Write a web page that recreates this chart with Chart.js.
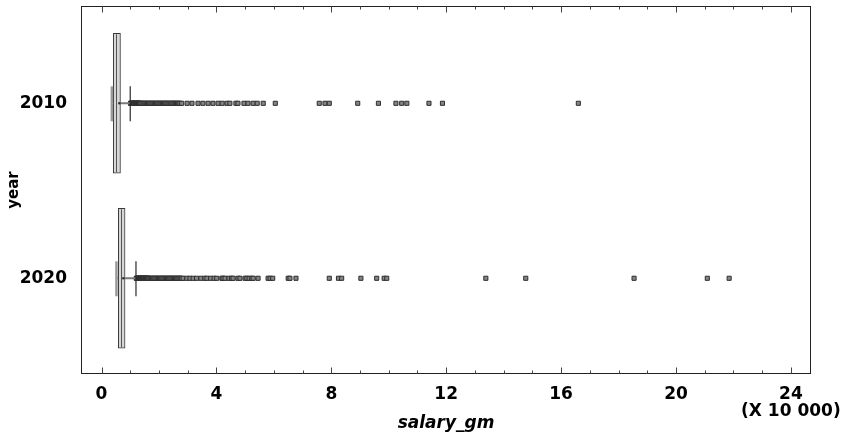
<!DOCTYPE html>
<html>
<head>
<meta charset="utf-8">
<script src="https://cdn.jsdelivr.net/npm/chart.js@4/dist/chart.umd.min.js"></script>
<style>
  html, body { margin: 0; padding: 0; background: #ffffff; }
  #wrap { width: 854px; height: 434px; }
</style>
</head>
<body>
<div id="wrap"><canvas id="c" width="854" height="434"></canvas></div>
<script>
// ---- data (salary_gm in units of 10 000) ----
const years = ['2010', '2020'];
const yearPositions = [0, 1];
const lowWhisker = [0.36, 0.52];
const q1 = [0.41, 0.585];
const median = [0.50, 0.68];
const q3 = [0.66, 0.82];
const highWhisker = [1.00, 1.20];
const means = [0.62, 0.76];

const outliers2010 = [
  1.01, 1.02, 1.04, 1.06, 1.07, 1.09, 1.11, 1.12, 1.14, 1.16, 1.17, 1.19, 1.21, 1.22, 1.24, 1.26, 1.27, 1.29, 1.31,
  1.32, 1.34,
  1.37, 1.41, 1.45, 1.49, 1.52, 1.56, 1.60, 1.64, 1.68, 1.72, 1.76, 1.80, 1.84, 1.88, 1.92, 1.96, 2.00, 2.04, 2.08,
  2.12, 2.16, 2.20, 2.24, 2.28, 2.32, 2.36, 2.41, 2.45, 2.49, 2.53, 2.57, 2.61, 2.65, 2.69, 2.73,
  2.79, 2.98, 3.15, 3.36, 3.53, 3.71, 3.88, 4.06, 4.20, 4.37, 4.47, 4.68, 4.75, 4.96, 5.10, 5.28, 5.42, 5.63, 6.05,
  7.58, 7.78, 7.93, 8.92, 9.64, 10.25, 10.45, 10.63, 11.40, 11.87, 16.60
];
const outliers2020 = [
  1.21, 1.23, 1.24, 1.26, 1.28, 1.29, 1.31, 1.33, 1.34, 1.36, 1.38, 1.39, 1.41, 1.43, 1.44, 1.46, 1.48, 1.49, 1.51,
  1.53, 1.54, 1.56, 1.58, 1.59, 1.61, 1.63,
  1.66, 1.70, 1.74, 1.78, 1.82, 1.86, 1.90, 1.94, 1.98, 2.02, 2.06, 2.10, 2.14, 2.18, 2.22, 2.26, 2.30, 2.34, 2.38,
  2.42, 2.46, 2.50, 2.54, 2.58, 2.62, 2.66, 2.70, 2.74, 2.78,
  2.84, 2.97, 3.08, 3.19, 3.31, 3.46, 3.60, 3.67, 3.80, 3.92, 4.01, 4.19, 4.23, 4.30, 4.44, 4.53, 4.58, 4.75, 4.82,
  5.00, 5.06, 5.14, 5.23, 5.28, 5.45, 5.80, 5.87, 5.96,
  6.50, 6.56, 6.77, 7.93, 8.25, 8.36, 9.03, 9.58, 9.84, 9.93, 13.38, 14.77, 18.54, 21.09, 21.85
];
const outliersByYear = [outliers2010, outliers2020];

const xTickValues = [0, 4, 8, 12, 16, 20, 24];
const xUnitLabel = '(X 10 000)';
const xTitle = 'salary_gm';
const yTitle = 'year';

// ---- build datasets ----
const boxData = yearPositions.map((p, i) => ({ x: [q1[i], q3[i]], y: p }));
const outlierData = [];
outliersByYear.forEach((arr, i) => arr.forEach(v => outlierData.push({ x: v, y: yearPositions[i] })));

const FONT = "'DejaVu Sans', 'Liberation Sans', Arial, sans-serif";

const boxPlugin = {
  id: 'boxDecor',
  afterDatasetsDraw(chart) {
    const { ctx, chartArea } = chart;
    const xs = chart.scales.x, ys = chart.scales.y;
    ctx.save();
    yearPositions.forEach((p, i) => {
      const yc = ys.getPixelForValue(p);
      // whisker lines
      ctx.strokeStyle = '#7a7a7a';
      ctx.lineWidth = 2;
      ctx.beginPath();
      ctx.moveTo(xs.getPixelForValue(lowWhisker[i]), yc);
      ctx.lineTo(xs.getPixelForValue(q1[i]), yc);
      ctx.moveTo(xs.getPixelForValue(q3[i]), yc);
      ctx.lineTo(xs.getPixelForValue(highWhisker[i]), yc);
      ctx.stroke();
      // low cap
      ctx.strokeStyle = '#9a9a9a';
      ctx.lineWidth = 2.5;
      ctx.beginPath();
      const lx = xs.getPixelForValue(lowWhisker[i]);
      ctx.moveTo(lx, yc - 17); ctx.lineTo(lx, yc + 18);
      ctx.stroke();
      // high cap
      ctx.strokeStyle = '#2a2a2a';
      ctx.lineWidth = 1.2;
      ctx.beginPath();
      const hx = xs.getPixelForValue(highWhisker[i]);
      ctx.moveTo(hx, yc - 17); ctx.lineTo(hx, yc + 18);
      ctx.stroke();
      // median
      ctx.strokeStyle = '#555555';
      ctx.lineWidth = 1;
      ctx.beginPath();
      const mx = Math.round(xs.getPixelForValue(median[i])) + 0.5;
      ctx.moveTo(mx, yc - 69); ctx.lineTo(mx, yc + 69);
      ctx.stroke();
      // mean dot
      ctx.fillStyle = '#333333';
      ctx.beginPath();
      ctx.arc(xs.getPixelForValue(means[i]), yc, 1.3, 0, Math.PI * 2);
      ctx.fill();
    });
    // frame
    ctx.strokeStyle = '#222222';
    ctx.lineWidth = 1;
    const L = Math.round(chartArea.left) + 0.5, R = Math.round(chartArea.right) - 0.5;
    const T = Math.round(chartArea.top) + 0.5, B = Math.round(chartArea.bottom) - 0.5;
    ctx.strokeRect(L, T, R - L, B - T);
    // inside ticks top and bottom
    ctx.strokeStyle = '#444444';
    ctx.beginPath();
    for (let v = Math.ceil(xs.min); v <= Math.floor(xs.max); v++) {
      const px = Math.round(xs.getPixelForValue(v)) + 0.5;
      const len = (v % 4 === 0) ? 6 : 3;
      ctx.moveTo(px, B); ctx.lineTo(px, B - len);
      ctx.moveTo(px, T); ctx.lineTo(px, T + len);
    }
    ctx.stroke();
    ctx.restore();
  }
};

new Chart(document.getElementById('c'), {
  type: 'bar',
  data: {
    datasets: [
      {
        type: 'scatter',
        label: 'outliers',
        data: outlierData,
        pointStyle: 'rect',
        pointRadius: 2.9,
        pointBackgroundColor: '#858585',
        pointBorderColor: '#2e2e2e',
        pointBorderWidth: 1,
        showLine: false
      },
      {
        type: 'bar',
        label: 'box',
        data: boxData,
        indexAxis: 'y',
        barThickness: 140,
        backgroundColor: '#d6d6d6',
        borderColor: '#3a3a3a',
        borderWidth: 1,
        borderSkipped: false
      }
    ]
  },
  options: {
    indexAxis: 'y',
    responsive: false,
    animation: false,
    events: [],
    layout: { padding: { top: 6, right: 43, bottom: 0, left: 0 } },
    plugins: { legend: { display: false }, tooltip: { enabled: false } },
    scales: {
      x: {
        type: 'linear',
        position: 'bottom',
        min: -0.714,
        max: 24.70,
        offset: false,
        beginAtZero: false,
        grid: { display: false, drawTicks: false },
        border: { display: false },
        afterBuildTicks: (s) => { s.ticks = xTickValues.map(v => ({ value: v })); },
        afterFit: (s) => { s.height = 60; s.paddingLeft = 0; s.paddingRight = 0; },
        ticks: {
          autoSkip: false,
          maxRotation: 0,
          minRotation: 0,
          padding: 12,
          color: '#000000',
          font: { family: FONT, size: 17, weight: 'bold', lineHeight: 1.0 },
          callback: (v) => (v === xTickValues[xTickValues.length - 1]) ? [String(v), xUnitLabel] : String(v)
        },
        title: {
          display: true,
          text: xTitle,
          color: '#000000',
          padding: { top: 0, bottom: 0 },
          font: { family: FONT, size: 17, weight: 'bold', style: 'italic', lineHeight: 1.2 }
        }
      },
      y: {
        type: 'linear',
        position: 'left',
        reverse: true,
        min: -0.556,
        max: 1.547,
        offset: false,
        grid: { display: false, drawTicks: false },
        border: { display: false },
        afterBuildTicks: (s) => { s.ticks = yearPositions.map(v => ({ value: v })); },
        afterFit: (s) => { s.width = 81; s.paddingTop = 0; s.paddingBottom = 0; },
        ticks: {
          autoSkip: false,
          padding: 14,
          color: '#000000',
          font: { family: FONT, size: 17, weight: 'bold' },
          callback: (v) => years[yearPositions.indexOf(v)]
        },
        title: {
          display: true,
          text: yTitle,
          color: '#000000',
          padding: { top: 5, bottom: 0 },
          font: { family: FONT, size: 15, weight: 'bold', lineHeight: 1.2 }
        }
      }
    }
  },
  plugins: [boxPlugin]
});
</script>
</body>
</html>
